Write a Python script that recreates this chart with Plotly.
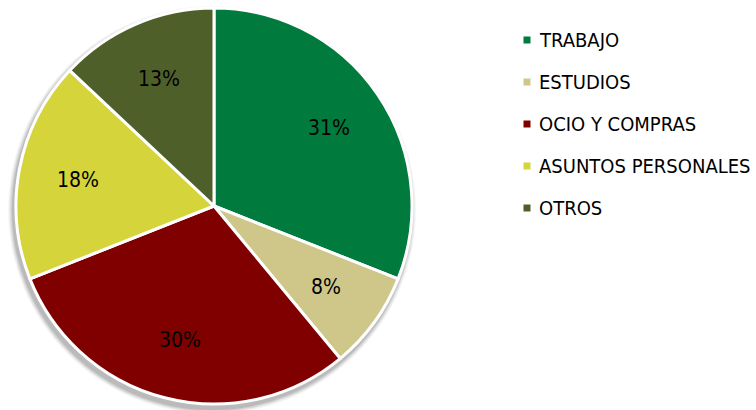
import math
import plotly.graph_objects as go

# Reparto de desplazamientos por motivo
categorias = ["TRABAJO", "ESTUDIOS", "OCIO Y COMPRAS", "ASUNTOS PERSONALES", "OTROS"]
porcentajes = [31, 8, 30, 18, 13]
colores = ["#007A3D", "#CFC68A", "#800000", "#D5D53B", "#4F5F2A"]

W, H = 756, 410
FONT = "DejaVu Sans Condensed, Liberation Sans Narrow, sans-serif"

# Geometría de la tarta (px)
cx, cy, r = 214, 206, 198
dom_x = [(cx - r) / W, (cx + r) / W]
dom_y = [(H - cy - r) / H, (H - cy + r) / H]

fig = go.Figure()

fig.add_trace(go.Pie(
    labels=categorias,
    values=porcentajes,
    sort=False,
    direction="clockwise",
    rotation=0,
    marker=dict(colors=colores, line=dict(color="white", width=3)),
    textinfo="none",
    showlegend=False,
    domain=dict(x=dom_x, y=dom_y),
    hoverinfo="label+percent",
))

annotations = []

# Etiquetas de porcentaje, situadas en el ángulo medio de cada sector
total = sum(porcentajes)
acum = 0
for v in porcentajes:
    ang = 2 * math.pi * (acum + v / 2) / total
    acum += v
    px = cx + 0.70 * r * math.sin(ang)
    py = cy - 0.70 * r * math.cos(ang)
    annotations.append(dict(
        x=px / W, y=(H - py) / H, xref="paper", yref="paper",
        text=f"{v}%", showarrow=False, xanchor="center", yanchor="middle",
        font=dict(family=FONT, size=21, color="black"),
    ))

# Sombra difusa bajo la tarta
shapes = []
dx, dy = -2, 4
for k, op in [(6, 0.05), (5, 0.07), (4, 0.09), (3, 0.12), (2, 0.16)]:
    rr = r + k
    shapes.append(dict(
        type="circle", xref="paper", yref="paper", layer="below",
        x0=(cx + dx - rr) / W, x1=(cx + dx + rr) / W,
        y0=(H - cy - dy - rr) / H, y1=(H - cy - dy + rr) / H,
        fillcolor=f"rgba(90,90,90,{op})", line=dict(width=0),
    ))

# Leyenda: cuadrado de color + texto
ley_x, ley_y0, ley_paso, lado = 527, 40, 42, 7
for i, (cat, col) in enumerate(zip(categorias, colores)):
    yc = ley_y0 + i * ley_paso
    shapes.append(dict(
        type="rect", xref="paper", yref="paper",
        x0=(ley_x - lado / 2) / W, x1=(ley_x + lado / 2) / W,
        y0=(H - yc - lado / 2) / H, y1=(H - yc + lado / 2) / H,
        fillcolor=col, line=dict(width=0),
    ))
    annotations.append(dict(
        x=(ley_x + 10) / W, y=(H - yc) / H, xref="paper", yref="paper",
        text=cat, showarrow=False, xanchor="left", yanchor="middle",
        font=dict(family=FONT, size=20, color="black"),
    ))

fig.update_layout(
    width=W, height=H,
    margin=dict(l=0, r=0, t=0, b=0),
    paper_bgcolor="white", plot_bgcolor="white",
    shapes=shapes,
    annotations=annotations,
)

fig.write_html("out.html")
